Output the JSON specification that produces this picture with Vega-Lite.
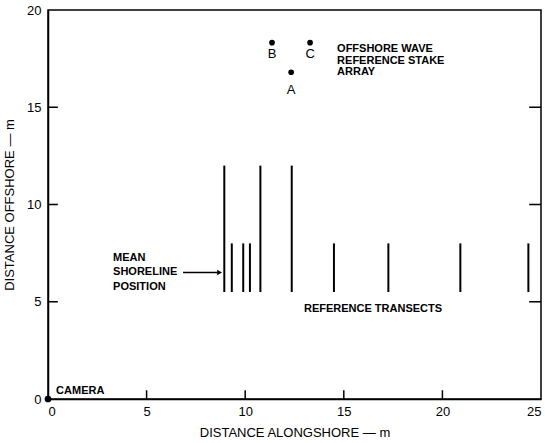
{
  "$schema": "https://vega.github.io/schema/vega-lite/v6.json",
  "width": 493,
  "height": 389,
  "autosize": {"type": "none"},
  "padding": {"left": 48, "top": 10, "right": 4, "bottom": 44},
  "config": {
    "font": "Liberation Sans",
    "view": {"stroke": "black", "strokeWidth": 1.5},
    "axis": {
      "grid": false,
      "domainColor": "black",
      "domainWidth": 1.5,
      "ticks": false,
      "labelPadding": 7,
      "labelColor": "black",
      "labelFontSize": 13,
      "titleColor": "black",
      "titleFontSize": 13,
      "titleFontWeight": "normal"
    }
  },
  "datasets": {
    "transects": [
      {"x": 8.94, "y0": 5.5, "y1": 12},
      {"x": 9.32, "y0": 5.5, "y1": 8},
      {"x": 9.9, "y0": 5.5, "y1": 8},
      {"x": 10.24, "y0": 5.5, "y1": 8},
      {"x": 10.77, "y0": 5.5, "y1": 12},
      {"x": 12.36, "y0": 5.5, "y1": 12},
      {"x": 14.5, "y0": 5.5, "y1": 8},
      {"x": 17.26, "y0": 5.5, "y1": 8},
      {"x": 20.91, "y0": 5.5, "y1": 8},
      {"x": 24.36, "y0": 5.5, "y1": 8}
    ],
    "hticks": [
      {"xa": 0, "xb": 0.5, "ya": 4.96, "yb": 5.04},
      {"xa": 0, "xb": 0.5, "ya": 9.96, "yb": 10.04},
      {"xa": 0, "xb": 0.5, "ya": 14.96, "yb": 15.04},
      {"xa": 24.4, "xb": 25, "ya": 4.96, "yb": 5.04},
      {"xa": 24.4, "xb": 25, "ya": 9.96, "yb": 10.04},
      {"xa": 24.4, "xb": 25, "ya": 14.96, "yb": 15.04}
    ],
    "vticks": [
      {"x": 5, "y": 0, "y2": 0.45},
      {"x": 10, "y": 0, "y2": 0.45},
      {"x": 15, "y": 0, "y2": 0.45},
      {"x": 20, "y": 0, "y2": 0.45}
    ],
    "stakes": [
      {"name": "B", "x": 11.36, "y": 18.32, "ly": 17.74},
      {"name": "C", "x": 13.29, "y": 18.32, "ly": 17.74},
      {"name": "A", "x": 12.33, "y": 16.8, "ly": 15.89}
    ],
    "notes": [
      {"text": "OFFSHORE WAVE", "x": 14.66, "y": 18.0},
      {"text": "REFERENCE STAKE", "x": 14.66, "y": 17.39},
      {"text": "ARRAY", "x": 14.66, "y": 16.83},
      {"text": "MEAN", "x": 3.3, "y": 7.25},
      {"text": "SHORELINE", "x": 3.3, "y": 6.53},
      {"text": "POSITION", "x": 3.3, "y": 5.76},
      {"text": "REFERENCE TRANSECTS", "x": 12.98, "y": 4.63},
      {"text": "CAMERA", "x": 0.41, "y": 0.41}
    ],
    "arrow": [{"x": 6.85, "x2": 8.6, "y": 6.5}],
    "arrowhead": [{"x": 8.7, "y": 6.5}],
    "camera": [{"x": 0, "y": 0}]
  },
  "layer": [
    {
      "data": {"name": "transects"},
      "mark": {"type": "rule", "color": "black", "strokeWidth": 2},
      "encoding": {
        "x": {"field": "x", "type": "quantitative", "scale": {"domain": [0, 25], "nice": false}, "axis": {"title": "DISTANCE ALONGSHORE — m", "values": [0, 5, 10, 15, 20, 25], "titlePadding": 8, "labelPadding": 6}},
        "y": {"field": "y0", "type": "quantitative", "scale": {"domain": [0, 20], "nice": false}, "axis": {"title": "DISTANCE OFFSHORE — m", "values": [0, 5, 10, 15, 20], "titlePadding": 10}},
        "y2": {"field": "y1"}
      }
    },
    {
      "data": {"name": "hticks"},
      "mark": {"type": "rect", "color": "black", "opacity": 1},
      "encoding": {
        "x": {"field": "xa", "type": "quantitative"},
        "x2": {"field": "xb"},
        "y": {"field": "ya", "type": "quantitative"},
        "y2": {"field": "yb"}
      }
    },
    {
      "data": {"name": "vticks"},
      "mark": {"type": "rule", "color": "black", "strokeWidth": 1.5},
      "encoding": {
        "x": {"field": "x", "type": "quantitative"},
        "y": {"field": "y", "type": "quantitative"},
        "y2": {"field": "y2"}
      }
    },
    {
      "data": {"name": "stakes"},
      "mark": {"type": "point", "filled": true, "color": "black", "size": 32, "opacity": 1},
      "encoding": {
        "x": {"field": "x", "type": "quantitative"},
        "y": {"field": "y", "type": "quantitative"}
      }
    },
    {
      "data": {"name": "stakes"},
      "mark": {"type": "text", "fontSize": 13, "color": "black", "baseline": "middle"},
      "encoding": {
        "x": {"field": "x", "type": "quantitative"},
        "y": {"field": "ly", "type": "quantitative"},
        "text": {"field": "name"}
      }
    },
    {
      "data": {"name": "notes"},
      "mark": {"type": "text", "fontSize": 11, "fontWeight": "bold", "color": "black", "align": "left", "baseline": "middle"},
      "encoding": {
        "x": {"field": "x", "type": "quantitative"},
        "y": {"field": "y", "type": "quantitative"},
        "text": {"field": "text"}
      }
    },
    {
      "data": {"name": "arrow"},
      "mark": {"type": "rule", "color": "black", "strokeWidth": 1.5},
      "encoding": {
        "x": {"field": "x", "type": "quantitative"},
        "x2": {"field": "x2"},
        "y": {"field": "y", "type": "quantitative"}
      }
    },
    {
      "data": {"name": "arrowhead"},
      "mark": {"type": "point", "shape": "triangle-right", "filled": true, "color": "black", "size": 30, "opacity": 1},
      "encoding": {
        "x": {"field": "x", "type": "quantitative"},
        "y": {"field": "y", "type": "quantitative"}
      }
    },
    {
      "data": {"name": "camera"},
      "mark": {"type": "point", "filled": true, "color": "black", "size": 45, "opacity": 1, "clip": false},
      "encoding": {
        "x": {"field": "x", "type": "quantitative"},
        "y": {"field": "y", "type": "quantitative"}
      }
    }
  ]
}
